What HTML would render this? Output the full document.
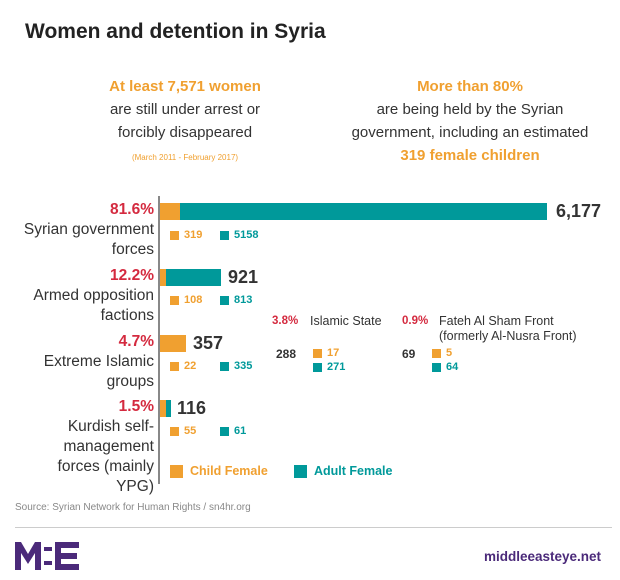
<!DOCTYPE html>
<html><head><style>
body{margin:0;width:620px;height:580px;background:#fff;font-family:"Liberation Sans",sans-serif;position:relative;overflow:hidden;color:#333}
div{position:absolute;white-space:nowrap}
.o{color:#f0a030}.t{color:#00999a}.r{color:#d42a3f;font-weight:bold}
.b{font-weight:bold}
.sq{width:9px;height:9px}
.lab{right:466px;text-align:right;font-size:15.5px;line-height:20px;color:#333}
.small{font-size:11px;font-weight:bold}
</style></head><body>
<div class="b" style="left:25px;top:20px;font-size:21px;color:#222">Women and detention in Syria</div>
<div style="left:55px;top:75px;width:260px;text-align:center;font-size:15px;line-height:23px;white-space:normal"><span class="o b">At least 7,571 women</span><br>are still under arrest or<br>forcibly disappeared<br><span class="o" style="font-size:8px;line-height:14px">(March 2011 - February 2017)</span></div>
<div style="left:330px;top:75px;width:280px;text-align:center;font-size:15px;line-height:23px;white-space:normal"><span class="o b">More than 80%</span><br>are being held by the Syrian<br>government, including an estimated<br><span class="o b">319 female children</span></div>
<div style="left:158px;top:196px;width:2px;height:288px;background:#888"></div>
<!-- gov -->
<div class="lab" style="top:200px"><span class="r">81.6%</span><br>Syrian government<br>forces</div>
<div style="left:160px;top:203px;width:20px;height:17px;background:#f0a030"></div>
<div style="left:180px;top:203px;width:367px;height:17px;background:#00999a"></div>
<div class="b" style="left:556px;top:201px;font-size:18px">6,177</div>
<div class="sq" style="left:170px;top:231px;background:#f0a030"></div><div class="small o" style="left:184px;top:229px">319</div>
<div class="sq" style="left:220px;top:231px;background:#00999a"></div><div class="small t" style="left:234px;top:229px">5158</div>
<!-- opp -->
<div class="lab" style="top:266px"><span class="r">12.2%</span><br>Armed opposition<br>factions</div>
<div style="left:160px;top:269px;width:6px;height:17px;background:#f0a030"></div>
<div style="left:166px;top:269px;width:55px;height:17px;background:#00999a"></div>
<div class="b" style="left:228px;top:267px;font-size:18px">921</div>
<div class="sq" style="left:170px;top:296px;background:#f0a030"></div><div class="small o" style="left:184px;top:294px">108</div>
<div class="sq" style="left:220px;top:296px;background:#00999a"></div><div class="small t" style="left:234px;top:294px">813</div>
<!-- ext -->
<div class="lab" style="top:332px"><span class="r">4.7%</span><br>Extreme Islamic<br>groups</div>
<div style="left:160px;top:335px;width:26px;height:17px;background:#f0a030"></div>
<div class="b" style="left:193px;top:333px;font-size:18px">357</div>
<div class="sq" style="left:170px;top:362px;background:#f0a030"></div><div class="small o" style="left:184px;top:360px">22</div>
<div class="sq" style="left:220px;top:362px;background:#00999a"></div><div class="small t" style="left:234px;top:360px">335</div>
<!-- kurd -->
<div class="lab" style="top:397px"><span class="r">1.5%</span><br>Kurdish self-<br>management<br>forces (mainly<br>YPG)</div>
<div style="left:160px;top:400px;width:6px;height:17px;background:#f0a030"></div>
<div style="left:166px;top:400px;width:5px;height:17px;background:#00999a"></div>
<div class="b" style="left:177px;top:398px;font-size:18px">116</div>
<div class="sq" style="left:170px;top:427px;background:#f0a030"></div><div class="small o" style="left:184px;top:425px">55</div>
<div class="sq" style="left:220px;top:427px;background:#00999a"></div><div class="small t" style="left:234px;top:425px">61</div>
<!-- legend -->
<div style="left:170px;top:465px;width:13px;height:13px;background:#f0a030"></div><div class="b o" style="left:190px;top:464px;font-size:12.5px">Child Female</div>
<div style="left:294px;top:465px;width:13px;height:13px;background:#00999a"></div><div class="b t" style="left:314px;top:464px;font-size:12.5px">Adult Female</div>
<!-- sub -->
<div class="r" style="left:272px;top:315px;font-size:11.5px">3.8%</div>
<div style="left:310px;top:314px;font-size:12.5px">Islamic State</div>
<div class="b" style="left:276px;top:347px;font-size:12px">288</div>
<div class="sq" style="left:313px;top:349px;background:#f0a030"></div><div class="small o" style="left:327px;top:347px">17</div>
<div class="sq" style="left:313px;top:363px;background:#00999a"></div><div class="small t" style="left:327px;top:361px">271</div>
<div class="r" style="left:402px;top:315px;font-size:11.5px">0.9%</div>
<div style="left:439px;top:314px;font-size:12.5px;line-height:15px">Fateh Al Sham Front<br>(formerly Al-Nusra Front)</div>
<div class="b" style="left:402px;top:347px;font-size:12px">69</div>
<div class="sq" style="left:432px;top:349px;background:#f0a030"></div><div class="small o" style="left:446px;top:347px">5</div>
<div class="sq" style="left:432px;top:363px;background:#00999a"></div><div class="small t" style="left:446px;top:361px">64</div>
<!-- footer -->
<div style="left:15px;top:502px;font-size:10px;color:#888">Source: Syrian Network for Human Rights / sn4hr.org</div>
<div style="left:15px;top:527px;width:597px;height:1px;background:#ccc"></div>
<svg style="position:absolute;left:15px;top:542px" width="64" height="28" viewBox="0 0 64 28"><path d="M0 28V0h6l7 12 7-12h6v28h-6V11l-7 11-7-11v17z" fill="#4b2a7a"/><rect x="29" y="5" width="8" height="4" fill="#4b2a7a"/><rect x="29" y="19" width="8" height="4" fill="#4b2a7a"/><path d="M40 0h24v6H46v5h16v6H46v5h18v6H40z" fill="#4b2a7a"/></svg>
<div class="b" style="left:484px;top:549px;font-size:13.5px;color:#4b2a7a">middleeasteye.net</div>
</body></html>
